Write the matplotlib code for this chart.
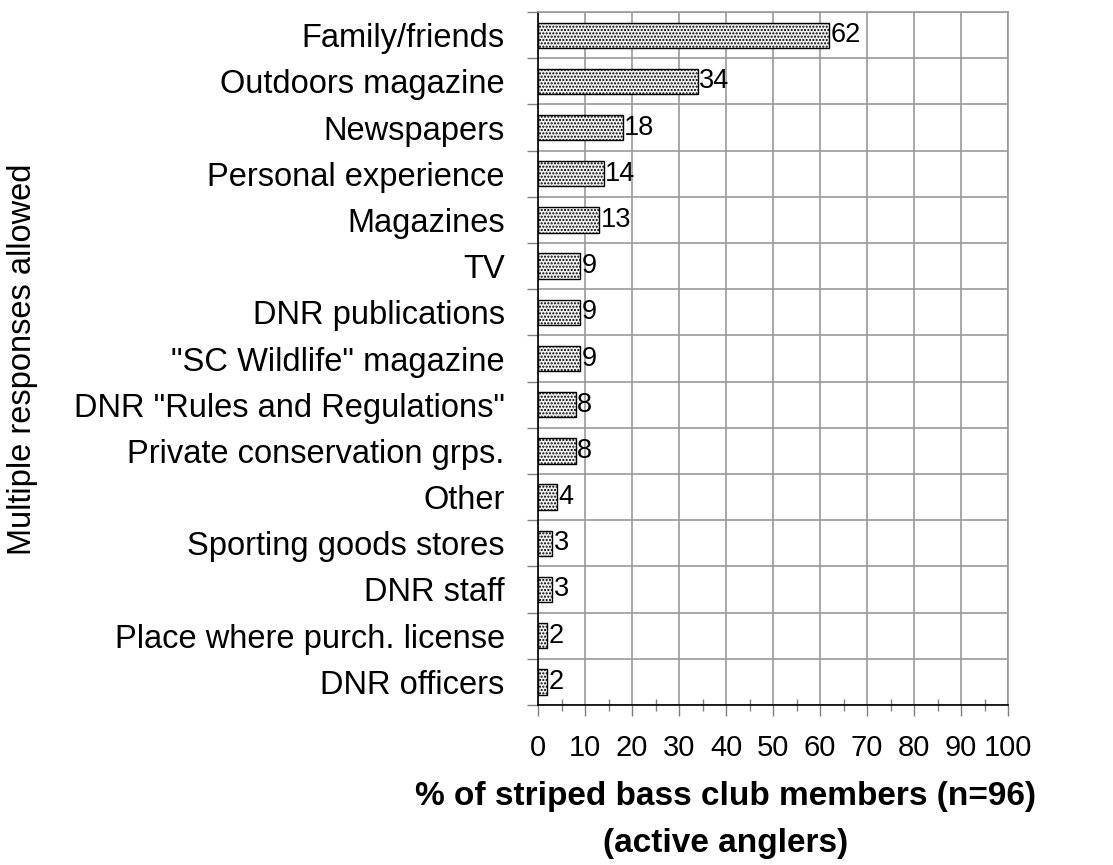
import matplotlib.pyplot as plt
import numpy as np
from matplotlib.ticker import MultipleLocator

plt.rcParams["font.family"] = ["Liberation Sans", "DejaVu Sans"]
plt.rcParams["hatch.color"] = "#606060"
plt.rcParams["hatch.linewidth"] = 1.0

categories = [
    "Family/friends",
    "Outdoors magazine",
    "Newspapers",
    "Personal experience",
    "Magazines",
    "TV",
    "DNR publications",
    '"SC Wildlife" magazine',
    'DNR "Rules and Regulations"',
    "Private conservation grps.",
    "Other",
    "Sporting goods stores",
    "DNR staff",
    "Place where purch. license",
    "DNR officers",
]
values = [62, 34, 18, 14, 13, 9, 9, 9, 8, 8, 4, 3, 3, 2, 2]

fig = plt.figure(figsize=(11.13, 8.65), dpi=100)
ax = fig.add_axes([0.4834, 0.185, 0.4223, 0.801])

y = np.arange(len(categories))
bars = ax.barh(y, values, height=0.55, color="#f2f2f2", edgecolor="black",
               linewidth=1.0, hatch=".....", zorder=3)

for yi, v in zip(y, values):
    ax.text(v + 0.3, yi, str(v), va="center", ha="left", fontsize=19.5, zorder=4)

ax.set_xlim(0, 100)
ax.set_ylim(len(categories) - 0.5, -0.5)

# x axis: major every 10, minor every 5
ax.xaxis.set_major_locator(MultipleLocator(10))
ax.xaxis.set_minor_locator(MultipleLocator(5))
ax.tick_params(axis="x", which="major", direction="out", length=8, width=1,
               color="#808080", labelsize=21, pad=13)
ax.tick_params(axis="x", which="minor", direction="inout", length=9, width=1,
               color="#808080")

# y axis: labels at centres, ticks/grid at category boundaries
ax.set_yticks(y)
ax.set_yticklabels(categories)
ax.set_yticks(np.arange(len(categories) + 1) - 0.5, minor=True)
ax.tick_params(axis="y", which="major", length=0, labelsize=23.5, pad=24)
ax.tick_params(axis="y", which="minor", direction="out", length=8, width=1,
               color="#808080")

ax.grid(axis="x", which="major", color="#999999", linewidth=1.2, zorder=0)
ax.grid(axis="y", which="minor", color="#999999", linewidth=1.2, zorder=0)

for side in ["top", "right"]:
    ax.spines[side].set_color("#999999")
    ax.spines[side].set_linewidth(1.2)
ax.spines["left"].set_color("black")
ax.spines["bottom"].set_color("black")
ax.spines["left"].set_linewidth(1.2)
ax.spines["bottom"].set_linewidth(1.2)

fig.text(0.652, 0.079, "% of striped bass club members (n=96)", ha="center",
         va="center", fontsize=24, fontweight="bold")
fig.text(0.652, 0.025, "(active anglers)", ha="center", va="center",
         fontsize=24, fontweight="bold")
fig.text(0.02, 0.585, "Multiple responses allowed", rotation=90, ha="center",
         va="center", fontsize=23.5)

fig.savefig("out.png", dpi=100)
